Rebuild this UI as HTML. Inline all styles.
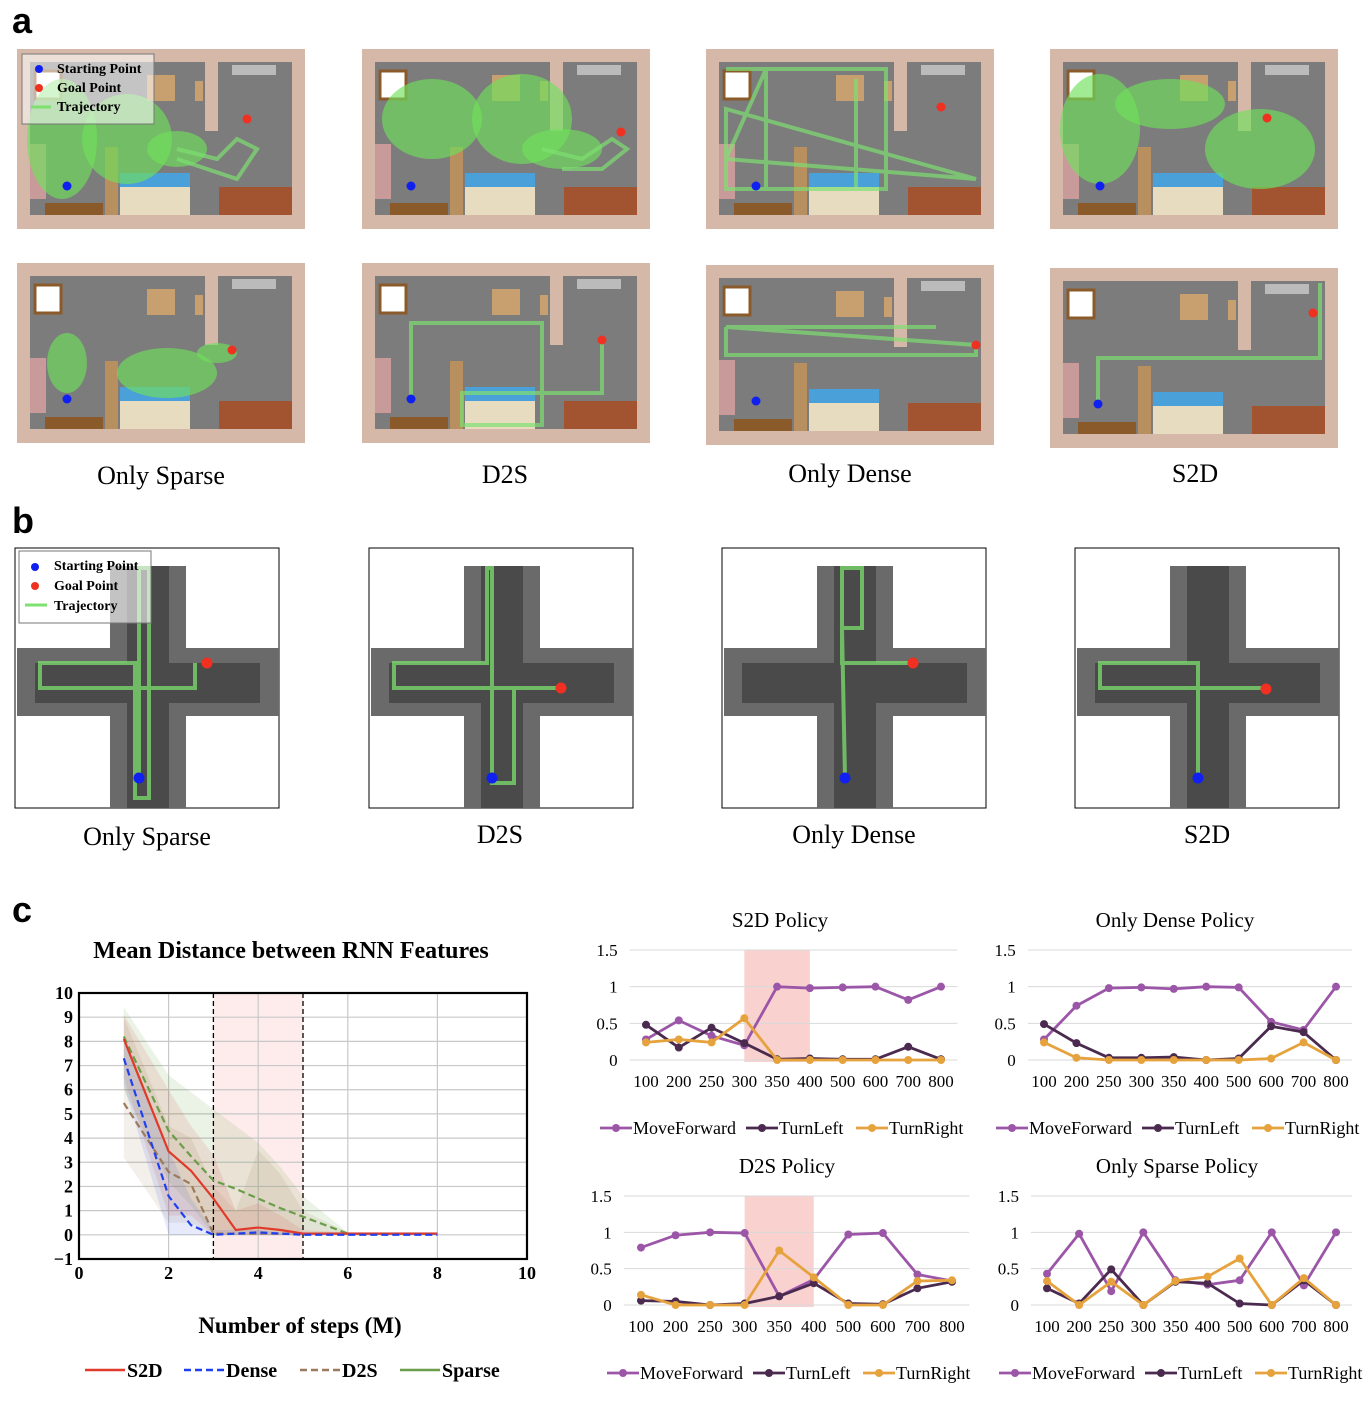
<!DOCTYPE html>
<html><head><meta charset="utf-8"><style>
body{margin:0;background:#fff;}
svg{display:block;font-family:"Liberation Serif",serif;}
.lbl{font-size:26px;fill:#000;}
</style></head><body>
<svg id="fig" width="1364" height="1406" viewBox="0 0 1364 1406" xmlns="http://www.w3.org/2000/svg">
<text x="12" y="33" font-family="Liberation Sans,sans-serif" font-weight="bold" font-size="36">a</text>
<text x="12" y="533" font-family="Liberation Sans,sans-serif" font-weight="bold" font-size="36">b</text>
<text x="12" y="922" font-family="Liberation Sans,sans-serif" font-weight="bold" font-size="36">c</text>
<g id="maps"></g>
<text class="lbl" x="161" y="484" text-anchor="middle">Only Sparse</text>
<text class="lbl" x="505" y="483" text-anchor="middle">D2S</text>
<text class="lbl" x="850" y="482" text-anchor="middle">Only Dense</text>
<text class="lbl" x="1195" y="482" text-anchor="middle">S2D</text>
<text class="lbl" x="147" y="845" text-anchor="middle">Only Sparse</text>
<text class="lbl" x="500" y="843" text-anchor="middle">D2S</text>
<text class="lbl" x="854" y="843" text-anchor="middle">Only Dense</text>
<text class="lbl" x="1207" y="843" text-anchor="middle">S2D</text>
<g id="main"></g>
<g id="small"></g>
</svg>
<script>
const NS="http://www.w3.org/2000/svg";
function mk(parent,tag,attrs,text){const e=document.createElementNS(NS,tag);for(const k in attrs)e.setAttribute(k,attrs[k]);if(text!==undefined)e.textContent=text;parent.appendChild(e);return e;}

/* ---------------- Main chart data ---------------- */
const stepsM=[1,2,2.5,3,3.5,4,4.5,5,6,8];
const s2dVals=[8.1,3.45,2.65,1.5,0.2,0.3,0.2,0.05,0.05,0.05];
const denseVals=[7.3,1.6,0.4,0,0.05,0.1,0.05,0,0,0];
const d2sVals=[5.45,2.6,2.1,0.05,0.05,0.05,0.05,0.05,0.05,0.05];
const sparseVals=[8.2,4.3,3.25,2.25,1.9,1.5,1.1,0.75,0.05,0.05];
const s2dUpper=[9.1,6.0,4.5,3.3,1.0,1.3,0.8,0.2,0.1,0.1];
const s2dLower=[6.5,0.8,0.8,0,0,0,0,0,0,0];
const denseUpper=[8.2,3.5,1.5,0.2,0.2,0.2,0.1,0.1,0.1,0.1];
const denseLower=[6.2,0,0,0,0,0,0,0,0,0];
const d2sUpper=[9.0,4.5,4.0,2.0,1.0,3.5,2.5,1.0,0.1,0.1];
const d2sLower=[3.2,0.5,0.5,0,0,0,0,0,0,0];
const sparseUpper=[9.4,6.6,5.9,5.2,4.5,3.8,2.8,1.6,0.1,0.1];
const sparseLower=[6.0,2.2,1.2,0,0,0,0,0,0,0];
const xTicks=[0,2,4,6,8,10];
const yTicks=[-1,0,1,2,3,4,5,6,7,8,9,10];

(function(){
 const g=document.getElementById('main');
 const L=79,R=527,T=993,B=1259;
 const X=v=>L+(v-0)/10*(R-L), Y=v=>B-(v+1)/11*(B-T);
 mk(g,'text',{x:291,y:958,'text-anchor':'middle','font-size':24,'font-weight':'bold',},'Mean Distance between RNN Features');
 mk(g,'rect',{x:X(3),y:T,width:X(5)-X(3),height:B-T,fill:'#fdeceb',});
 yTicks.forEach(t=>{mk(g,'line',{x1:L,x2:R,y1:Y(t),y2:Y(t),stroke:'#c8c8c8','stroke-width':1.2});
  const e=mk(g,'text',{x:L-6,y:Y(t)+6,'text-anchor':'end','font-size':18,'font-weight':'bold'},t<0?'\u22121':String(t));
  });
 xTicks.forEach(t=>{mk(g,'line',{x1:X(t),x2:X(t),y1:T,y2:B,stroke:'#c8c8c8','stroke-width':1.2});
  const e=mk(g,'text',{x:X(t),y:B+20,'text-anchor':'middle','font-size':18,'font-weight':'bold'},String(t));
  });
 function band(up,lo,col,name){let d='M'+stepsM.map((s,i)=>X(s)+','+Y(up[i])).join('L');
  for(let i=stepsM.length-1;i>=0;i--)d+='L'+X(stepsM[i])+','+Y(lo[i]);
  const e=mk(g,'path',{d:d+'Z',fill:col,'fill-opacity':0.12});}
 band(sparseUpper,sparseLower,'#5a9a3a','sparse-band');band(d2sUpper,d2sLower,'#a07850','d2s-band');
 band(s2dUpper,s2dLower,'#d04030','s2d-band');band(denseUpper,denseLower,'#3050e0','dense-band');
 [X(3),X(5)].forEach(x=>{const e=mk(g,'line',{x1:x,x2:x,y1:T,y2:B,stroke:'#000','stroke-width':1.3,'stroke-dasharray':'5,3'});});
 function line(v,col,dash,name){const e=mk(g,'polyline',{points:stepsM.map((s,i)=>X(s)+','+Y(v[i])).join(' '),fill:'none',stroke:col,'stroke-width':2.2,'stroke-dasharray':dash});}
 line(sparseVals,'#6a9e4a','7,4','sparse-line');line(d2sVals,'#9b7b5b','7,4','d2s-line');
 line(s2dVals,'#e03a2a','none','s2d-line');line(denseVals,'#2040f0','7,4','dense-line');
 mk(g,'rect',{x:L,y:T,width:R-L,height:B-T,fill:'none',stroke:'#000','stroke-width':2.2,});
 mk(g,'text',{x:300,y:1333,'text-anchor':'middle','font-size':23,'font-weight':'bold',},'Number of steps (M)');
 const leg=[['S2D','#e03a2a','none',85],['Dense','#2040f0','7,4',184],['D2S','#9b7b5b','7,4',300],['Sparse','#6a9e4a','none',400]];
 leg.forEach(l=>{const gg=mk(g,'g',{});
  mk(gg,'line',{x1:l[3],x2:l[3]+40,y1:1370,y2:1370,stroke:l[1],'stroke-width':2.5,'stroke-dasharray':l[2]});
  mk(gg,'text',{x:l[3]+42,y:1377,'font-size':20,'font-weight':'bold'},l[0]);});
})();

/* ---------------- Small policy charts ---------------- */
const policyCats=['100','200','250','300','350','400','500','600','700','800'];
const s2dMove=[0.28,0.54,0.33,0.2,1.0,0.98,0.99,1.0,0.82,1.0];
const s2dLeft=[0.48,0.17,0.44,0.23,0.01,0.02,0.01,0.01,0.18,0.01];
const s2dRight=[0.24,0.28,0.24,0.57,0,0,0,0,0,0];
const denseMove=[0.28,0.74,0.98,0.99,0.97,1.0,0.99,0.52,0.41,1.0];
const denseLeft=[0.49,0.23,0.03,0.03,0.04,0,0.02,0.46,0.38,0];
const denseRight=[0.24,0.03,0,0,0,0,0,0.02,0.24,0];
const d2sMove=[0.79,0.96,1.0,0.99,0.12,0.35,0.97,0.99,0.42,0.33];
const d2sLeft=[0.06,0.05,0,0.02,0.12,0.3,0.02,0.01,0.23,0.32];
const d2sRight=[0.14,0,0,0,0.75,0.38,0,0,0.33,0.34];
const sparseMove=[0.43,0.98,0.19,1.0,0.34,0.28,0.34,1.0,0.27,1.0];
const sparseLeft=[0.23,0.02,0.49,0,0.32,0.3,0.02,0,0.34,0];
const sparseRight=[0.33,0,0.32,0,0.33,0.39,0.64,0,0.37,0];
const policyTicks=[0,0.5,1,1.5];

function policy(cfg){
 const g=mk(document.getElementById('small'),'g',{});
 
 const {x0,x1,y15,y0}=cfg;const n=policyCats.length,sp=(x1-x0)/(n-1);
 const X=i=>x0+i*sp,Y=v=>y0-v/1.5*(y0-y15);
 mk(g,'text',{x:cfg.tx,y:y15-23,'text-anchor':'middle','font-size':21},cfg.title);
 if(cfg.hl){const e=mk(g,'rect',{x:X(3)+sp*0,y:y15,width:sp*2,height:y0-y15+2,fill:'#f4a6a0','fill-opacity':0.5});}
 policyTicks.forEach(t=>{mk(g,'line',{x1:x0-sp/2,x2:x1+sp/2,y1:Y(t),y2:Y(t),stroke:'#d9d9d9','stroke-width':1});
  const e=mk(g,'text',{x:x0-sp/2-12,y:Y(t)+6,'text-anchor':'end','font-size':17},String(t));});
 policyCats.forEach((c,i)=>{const e=mk(g,'text',{x:X(i),y:y0+27,'text-anchor':'middle','font-size':17},c);});
 const ser=[[cfg.move,'#9c56a8','movefoward'],[cfg.left,'#4b2a4f','turnleft'],[cfg.right,'#e6a23c','turnright']];
 ser.forEach(s=>{const e=mk(g,'polyline',{points:s[0].map((v,i)=>X(i)+','+Y(v)).join(' '),fill:'none',stroke:s[1],'stroke-width':2.8});
  
  s[0].forEach((v,i)=>{const c=mk(g,'circle',{cx:X(i),cy:Y(v),r:4,fill:s[1]});});});
 const names=['MoveForward','TurnLeft','TurnRight'],offs=[0,146,256];
 names.forEach((nm,k)=>{const lx=cfg.lx+offs[k];const gg=mk(g,'g',{});
  mk(gg,'line',{x1:lx,x2:lx+32,y1:cfg.ly-6,y2:cfg.ly-6,stroke:ser[k][1],'stroke-width':2.8});
  mk(gg,'circle',{cx:lx+16,cy:cfg.ly-6,r:4,fill:ser[k][1]});
  mk(gg,'text',{x:lx+33,y:cfg.ly,'font-size':18},nm);});
}
policy({name:'s2d-policy-chart',title:'S2D Policy',tx:780,x0:646,x1:941,y15:950,y0:1060,hl:true,move:s2dMove,left:s2dLeft,right:s2dRight,lx:600,ly:1134});
policy({name:'only-dense-policy-chart',title:'Only Dense Policy',tx:1175,x0:1044,x1:1336,y15:950,y0:1060,hl:false,move:denseMove,left:denseLeft,right:denseRight,lx:996,ly:1134});
policy({name:'d2s-policy-chart',title:'D2S Policy',tx:787,x0:641,x1:952,y15:1196,y0:1305,hl:true,move:d2sMove,left:d2sLeft,right:d2sRight,lx:607,ly:1379});
policy({name:'only-sparse-policy-chart',title:'Only Sparse Policy',tx:1177,x0:1047,x1:1336,y15:1196,y0:1305,hl:false,move:sparseMove,left:sparseLeft,right:sparseRight,lx:999,ly:1379});

/* ---------------- Maps (illustrations) ---------------- */
const mapsG=document.getElementById('maps');
function room(ox,oy,traj,blob,start,goal,legend,nm){
 const g=mk(mapsG,'g',{transform:`translate(${ox},${oy})`});
 mk(g,'rect',{x:0,y:0,width:288,height:180,fill:'#d6b8a8'});
 mk(g,'rect',{x:13,y:13,width:262,height:153,fill:'#7c7c7c'});
 mk(g,'rect',{x:188,y:0,width:13,height:82,fill:'#d6b8a8'});
 mk(g,'rect',{x:215,y:16,width:44,height:10,fill:'#bbb'});
 mk(g,'rect',{x:202,y:138,width:73,height:28,fill:'#a2532f'});
 mk(g,'rect',{x:103,y:124,width:70,height:42,fill:'#e8dcc0'});
 mk(g,'rect',{x:103,y:124,width:70,height:14,fill:'#4aa0d8'});
 mk(g,'rect',{x:88,y:98,width:13,height:68,fill:'#b89060'});
 mk(g,'rect',{x:13,y:95,width:16,height:55,fill:'#c89a9a'});
 mk(g,'rect',{x:28,y:154,width:58,height:12,fill:'#8b5a2b'});
 mk(g,'rect',{x:18,y:22,width:26,height:28,fill:'#fff',stroke:'#8b5a2b','stroke-width':3});
 mk(g,'rect',{x:130,y:26,width:28,height:26,fill:'#c8a070'});
 mk(g,'rect',{x:178,y:32,width:8,height:20,fill:'#c8a070'});
 blob.forEach(b=>mk(g,'ellipse',{cx:b[0],cy:b[1],rx:b[2],ry:b[3],fill:'#6ee05a','fill-opacity':0.65}));
 if(traj)mk(g,'polyline',{points:traj,fill:'none',stroke:'#7ee070','stroke-width':4,'stroke-opacity':0.7});
 mk(g,'circle',{cx:start[0],cy:start[1],r:4.5,fill:'#1020f0'});
 mk(g,'circle',{cx:goal[0],cy:goal[1],r:4.5,fill:'#f03020'});
 if(legend){mk(g,'rect',{x:5,y:5,width:132,height:70,fill:'#fff','fill-opacity':0.55,stroke:'#777'});
  mk(g,'circle',{cx:22,cy:20,r:4,fill:'#1020f0'});mk(g,'circle',{cx:22,cy:39,r:4,fill:'#f03020'});
  mk(g,'line',{x1:14,x2:34,y1:58,y2:58,stroke:'#7ee070','stroke-width':3});
  mk(g,'text',{x:40,y:24,'font-size':14,'font-weight':'bold'},'Starting Point');mk(g,'text',{x:40,y:43,'font-size':14,'font-weight':'bold'},'Goal Point');mk(g,'text',{x:40,y:62,'font-size':14,'font-weight':'bold'},'Trajectory');}
}
room(17,49,'160,100 200,110 220,90 240,100 220,130 190,120 160,110',[[45,90,35,60],[110,90,45,45],[160,100,30,18]],[50,137],[230,70],true,'map-a-top-1');
room(362,49,'180,100 220,110 250,90 265,100 240,120 200,120',[[70,70,50,40],[160,70,50,45],[200,100,40,20]],[49,137],[259,83],false,'map-a-top-2');
room(706,49,'20,20 180,20 180,140 20,140 20,60 270,130 20,110 60,20 60,140 150,140 150,30',[],[50,137],[235,58],false,'map-a-top-3');
room(1050,49,'',[[50,80,40,55],[120,55,55,25],[210,100,55,40]],[50,137],[217,69],false,'map-a-top-4');
room(17,263,'',[[50,100,20,30],[150,110,50,25],[200,90,20,10]],[50,136],[215,87],false,'map-a-bottom-1');
room(362,263,'49,136 49,60 180,60 180,130 100,130 100,162 180,162 180,130 240,130 240,77',[],[49,136],[240,77],false,'map-a-bottom-2');
room(706,265,'20,62 20,90 270,90 270,80 20,62 230,62',[],[50,136],[270,80],false,'map-a-bottom-3');
room(1050,268,'48,136 48,90 270,90 270,15',[],[48,136],[263,45],false,'map-a-bottom-4');

function cross(ox,oy,traj,start,goal,legend,nm){
 const g=mk(mapsG,'g',{transform:`translate(${ox},${oy})`});
 mk(g,'rect',{x:0,y:0,width:264,height:260,fill:'#fff',stroke:'#000','stroke-width':1});
 mk(g,'rect',{x:95,y:18,width:76,height:242,fill:'#6a6a6a'});
 mk(g,'rect',{x:2,y:100,width:262,height:68,fill:'#6a6a6a'});
 mk(g,'rect',{x:112,y:18,width:42,height:242,fill:'#4a4a4a'});
 mk(g,'rect',{x:20,y:115,width:225,height:40,fill:'#4a4a4a'});
 mk(g,'polyline',{points:traj,fill:'none',stroke:'#7ee070','stroke-width':4,'stroke-opacity':0.75});
 mk(g,'circle',{cx:start[0],cy:start[1],r:5.5,fill:'#1020f0'});
 mk(g,'circle',{cx:goal[0],cy:goal[1],r:5.5,fill:'#f03020'});
 if(legend){mk(g,'rect',{x:4,y:3,width:132,height:72,fill:'#fff','fill-opacity':0.6,stroke:'#777'});
  mk(g,'circle',{cx:20,cy:19,r:4,fill:'#1020f0'});mk(g,'circle',{cx:20,cy:38,r:4,fill:'#f03020'});
  mk(g,'line',{x1:10,x2:32,y1:57,y2:57,stroke:'#7ee070','stroke-width':3});
  mk(g,'text',{x:39,y:22,'font-size':14,'font-weight':'bold'},'Starting Point');mk(g,'text',{x:39,y:42,'font-size':14,'font-weight':'bold'},'Goal Point');mk(g,'text',{x:39,y:62,'font-size':14,'font-weight':'bold'},'Trajectory');}
}
cross(15,548,'124,230 124,20 134,20 134,250 120,250 120,115 25,115 25,140 180,140 180,115',[124,230],[192,115],true,'map-b-1');
cross(369,548,'123,230 123,20 118,20 118,115 25,115 25,140 145,140 145,235 123,235 123,140 190,140',[123,230],[192,140],false,'map-b-2');
cross(722,548,'123,230 120,80 140,80 140,20 120,20 120,115 190,115',[123,230],[191,115],false,'map-b-3');
cross(1075,548,'123,230 123,115 25,115 25,140 190,140',[123,230],[191,141],false,'map-b-4');
</script>
</body></html>
